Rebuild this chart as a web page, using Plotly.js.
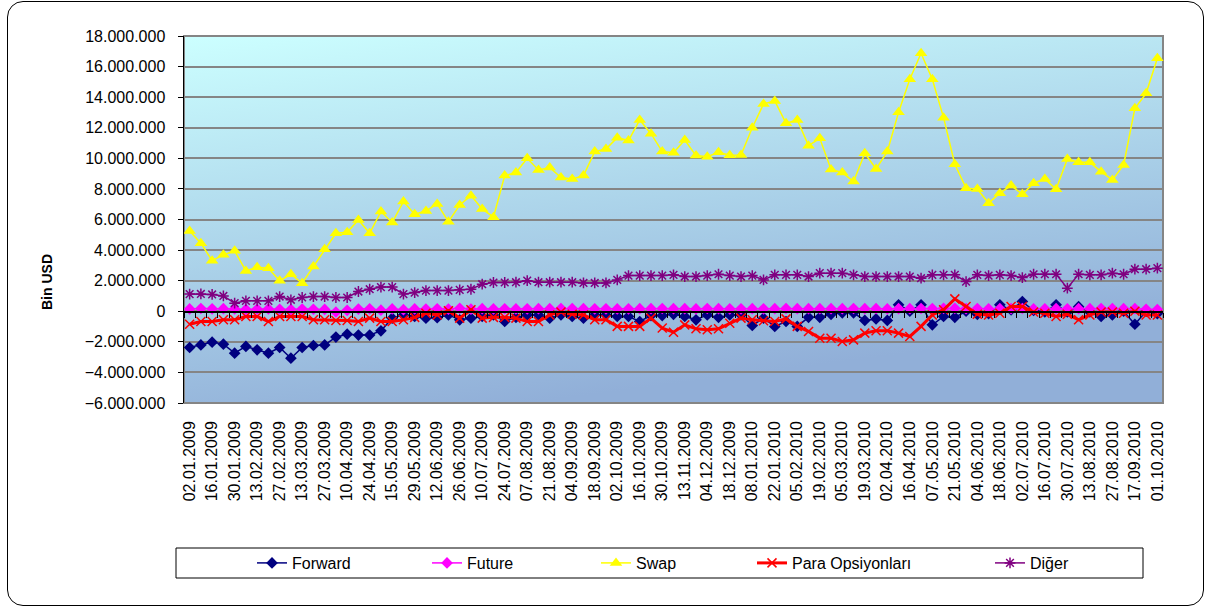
<!DOCTYPE html>
<html>
<head>
<meta charset="utf-8">
<script src="https://cdn.plot.ly/plotly-3.0.1.min.js"></script>
<style>
html,body{margin:0;padding:0;background:#fff;}
#wrap{position:relative;width:1206px;height:607px;}
#chart{position:absolute;left:0;top:0;width:1206px;height:607px;}
#frame{position:absolute;left:7px;top:1px;width:1195px;height:603px;border:1.5px solid #000;border-radius:16px;pointer-events:none;}
</style>
</head>
<body>
<div id="wrap"><div id="chart"></div><div id="frame"></div></div>
<script>
const dates = [
"02.01.2009","09.01.2009","16.01.2009","23.01.2009","30.01.2009","06.02.2009","13.02.2009","20.02.2009","27.02.2009","06.03.2009",
"13.03.2009","20.03.2009","27.03.2009","03.04.2009","10.04.2009","17.04.2009","24.04.2009","08.05.2009","15.05.2009","22.05.2009",
"29.05.2009","05.06.2009","12.06.2009","19.06.2009","26.06.2009","03.07.2009","10.07.2009","17.07.2009","24.07.2009","31.07.2009",
"07.08.2009","14.08.2009","21.08.2009","28.08.2009","04.09.2009","11.09.2009","18.09.2009","25.09.2009","02.10.2009","09.10.2009",
"16.10.2009","23.10.2009","30.10.2009","06.11.2009","13.11.2009","20.11.2009","04.12.2009","11.12.2009","18.12.2009","25.12.2009",
"08.01.2010","15.01.2010","22.01.2010","29.01.2010","05.02.2010","12.02.2010","19.02.2010","26.02.2010","05.03.2010","12.03.2010",
"19.03.2010","26.03.2010","02.04.2010","09.04.2010","16.04.2010","30.04.2010","07.05.2010","14.05.2010","21.05.2010","28.05.2010",
"04.06.2010","11.06.2010","18.06.2010","25.06.2010","02.07.2010","09.07.2010","16.07.2010","23.07.2010","30.07.2010","06.08.2010",
"13.08.2010","20.08.2010","27.08.2010","03.09.2010","17.09.2010","24.09.2010","01.10.2010"
];
const tickLabels = [
"02.01.2009","16.01.2009","30.01.2009","13.02.2009","27.02.2009","13.03.2009","27.03.2009","10.04.2009","24.04.2009","15.05.2009",
"29.05.2009","12.06.2009","26.06.2009","10.07.2009","24.07.2009","07.08.2009","21.08.2009","04.09.2009","18.09.2009","02.10.2009",
"16.10.2009","30.10.2009","13.11.2009","04.12.2009","18.12.2009","08.01.2010","22.01.2010","05.02.2010","19.02.2010","05.03.2010",
"19.03.2010","02.04.2010","16.04.2010","07.05.2010","21.05.2010","04.06.2010","18.06.2010","02.07.2010","16.07.2010","30.07.2010",
"13.08.2010","27.08.2010","17.09.2010","01.10.2010"
];
const forward = [
-2370000,-2200000,-2020000,-2150000,-2740000,-2300000,-2520000,-2740000,-2370000,-3070000,-2370000,-2240000,-2200000,-1690000,-1500000,
-1560000,-1560000,-1280000,-450000,-240000,-340000,-450000,-420000,-240000,-560000,-450000,-340000,-240000,-670000,
-400000,-240000,-240000,-450000,-240000,-340000,-450000,-240000,-240000,-340000,-340000,-670000,-280000,-280000,
-200000,-340000,-560000,-240000,-400000,-240000,-240000,-930000,-450000,-990000,-670000,-990000,-400000,-400000,-200000,
-100000,-100000,-600000,-500000,-600000,420000,0,420000,-890000,-340000,-400000,0,-200000,-150000,
420000,90000,630000,50000,-50000,420000,-50000,300000,-50000,-340000,-240000,0,-850000,0,-150000
];
const future = [
150000,180000,160000,170000,150000,120000,140000,150000,130000,110000,140000,130000,120000,-50000,60000,
140000,160000,70000,150000,100000,150000,140000,160000,140000,190000,140000,170000,150000,160000,
150000,160000,170000,170000,180000,180000,170000,160000,160000,150000,160000,170000,170000,180000,
170000,170000,150000,180000,170000,160000,160000,170000,160000,170000,180000,170000,170000,170000,170000,
170000,180000,170000,170000,150000,170000,170000,180000,180000,190000,190000,170000,180000,160000,
170000,170000,180000,150000,160000,170000,160000,170000,170000,180000,180000,170000,170000,130000,110000
];
const swap = [
5250000,4450000,3310000,3690000,3950000,2640000,2880000,2820000,1990000,2420000,1830000,2920000,4060000,5100000,5170000,
5970000,5100000,6520000,5800000,7170000,6350000,6560000,7020000,5860000,6950000,7560000,6690000,6150000,8870000,
9070000,10000000,9240000,9400000,8740000,8650000,8870000,10440000,10610000,11350000,11160000,12510000,11610000,10440000,
10370000,11200000,10180000,10110000,10400000,10200000,10220000,12000000,13560000,13750000,12290000,12510000,10830000,11310000,9270000,
9070000,8480000,10330000,9310000,10440000,13010000,15170000,16870000,15170000,12660000,9610000,8050000,8000000,7070000,
7720000,8220000,7650000,8370000,8650000,7980000,9960000,9740000,9740000,9130000,8590000,9570000,13270000,14250000,16540000
];
const paraOpsiyonlari = [
-850000,-670000,-670000,-560000,-560000,-340000,-340000,-670000,-340000,-340000,-340000,-560000,-560000,-600000,-600000,
-670000,-450000,-670000,-670000,-560000,-400000,-130000,-240000,30000,-450000,100000,-450000,-400000,-400000,
-450000,-670000,-670000,-240000,-50000,-190000,-240000,-560000,-560000,-990000,-990000,-990000,-450000,-1100000,
-1370000,-890000,-1150000,-1210000,-1150000,-780000,-450000,-560000,-620000,-670000,-500000,-990000,-1320000,-1760000,-1760000,
-1980000,-1870000,-1430000,-1280000,-1280000,-1430000,-1650000,-990000,-240000,100000,810000,310000,-190000,-240000,
-130000,310000,310000,-50000,-130000,-340000,-190000,-560000,-240000,-50000,-50000,-130000,0,-240000,-240000
];
const diger = [
1120000,1130000,1100000,1000000,530000,680000,680000,680000,960000,750000,900000,960000,960000,900000,900000,
1290000,1440000,1580000,1580000,1120000,1220000,1350000,1350000,1350000,1400000,1440000,1770000,1880000,1880000,
1900000,2000000,1900000,1900000,1900000,1900000,1850000,1850000,1850000,2050000,2330000,2330000,2330000,2330000,
2380000,2270000,2270000,2330000,2420000,2330000,2270000,2330000,2050000,2380000,2380000,2380000,2270000,2490000,2490000,
2490000,2380000,2270000,2270000,2270000,2270000,2270000,2160000,2380000,2380000,2380000,1940000,2380000,2330000,
2380000,2330000,2200000,2420000,2420000,2420000,1510000,2420000,2380000,2380000,2490000,2420000,2750000,2750000,2820000
];
const seriesNames = ["Forward","Future","Swap","Para Opsiyonları","Diğer"];
const yTitle = "Bin USD";

const FONT = "'Liberation Sans', Arial, sans-serif";
const L = 184, PW = 979, T = 36, PH = 367;
const px2x = p => (p - L) / PW;
const px2y = p => (T + PH - p) / PH;

const bgSvg = '<svg xmlns="http://www.w3.org/2000/svg" width="979" height="367" preserveAspectRatio="none" viewBox="0 0 979 367">' +
  '<defs><linearGradient id="g" x1="0" y1="0" x2="0.35" y2="1">' +
  '<stop offset="0" stop-color="#CCFFFF"/><stop offset="1" stop-color="#91AFD8"/></linearGradient></defs>' +
  '<rect width="979" height="367" fill="url(#g)"/></svg>';
const bgSrc = 'data:image/svg+xml;charset=utf-8,' + encodeURIComponent(bgSvg);

function tr(y, name, color, sym, msize, lw, legendId, extra) {
  const t = {
    x: dates, y: y, name: name, type: 'scatter', mode: 'lines+markers',
    line: {color: color, width: lw},
    marker: {symbol: sym, size: msize, color: color, line: {color: color, width: 0}},
    legend: legendId, cliponaxis: false
  };
  if (extra) Object.assign(t.marker, extra);
  return t;
}
const traces = [
  {x: [], y: [], xaxis: 'x2', yaxis: 'y', type: 'scatter', mode: 'markers', showlegend: false, hoverinfo: 'skip'},
  tr(forward, seriesNames[0], '#000080', 'diamond', 9, 1.5, 'legend'),
  tr(future, seriesNames[1], '#FF00FF', 'diamond', 9, 1.5, 'legend2'),
  tr(swap, seriesNames[2], '#FFFF00', 'triangle-up', 11, 1.5, 'legend3'),
  tr(paraOpsiyonlari, seriesNames[3], '#FF0000', 'x-thin-open', 9, 3, 'legend4', {line: {color: '#FF0000', width: 1.5}}),
  tr(diger, seriesNames[4], '#800080', 'asterisk-open', 9, 1.5, 'legend5', {line: {color: '#800080', width: 1.5}})
];

const legTextPx = [294, 469, 638, 794, 1032];
function leg(i) {
  return {x: px2x(legTextPx[i] - 42), xanchor: 'left', y: px2y(563), yanchor: 'middle',
    orientation: 'h', bgcolor: 'rgba(0,0,0,0)', borderwidth: 0,
    font: {family: FONT, size: 16, color: '#000'}, itemwidth: 30};
}

const layout = {
  width: 1206, height: 607,
  margin: {l: L, r: 1206 - L - PW, t: T, b: 607 - T - PH, pad: 0},
  paper_bgcolor: 'rgba(0,0,0,0)', plot_bgcolor: 'rgba(0,0,0,0)',
  separators: ',.',
  font: {family: FONT, size: 16, color: '#000'},
  showlegend: true,
  legend: leg(0), legend2: leg(1), legend3: leg(2), legend4: leg(3), legend5: leg(4),
  xaxis: {
    type: 'category', categoryorder: 'array', categoryarray: dates,
    range: [-0.5, dates.length - 0.5],
    tickmode: 'array', tickvals: tickLabels, ticktext: tickLabels,
    tickangle: -90, ticks: '', showgrid: false, zeroline: false, showline: false,
    ticklabelstandoff: 14,
    tickfont: {family: FONT, size: 16, color: '#000'}
  },
  xaxis2: {
    overlaying: 'x', anchor: 'free', position: 0.25, type: 'linear',
    range: [-0.5, dates.length - 0.5], tick0: -0.5, dtick: 1,
    ticks: 'outside', ticklen: 5, tickwidth: 1, tickcolor: '#000',
    showline: true, linecolor: '#000', linewidth: 1.5,
    showticklabels: false, showgrid: false, zeroline: false
  },
  yaxis: {
    range: [-6000000, 18000000], dtick: 2000000, tick0: 0, tickformat: ',d',
    showgrid: true, gridcolor: '#858585', gridwidth: 2,
    zeroline: false, showline: true, linecolor: '#000', linewidth: 1.5,
    ticks: 'outside', ticklen: 5, tickcolor: '#000', tickwidth: 1,
    ticklabelstandoff: 9,
    tickfont: {family: FONT, size: 16, color: '#000'}
  },
  images: [{source: bgSrc, xref: 'paper', yref: 'paper', x: 0, y: 1, sizex: 1, sizey: 1,
    sizing: 'stretch', xanchor: 'left', yanchor: 'top', layer: 'below'}],
  shapes: [
    {type: 'rect', xref: 'paper', yref: 'paper', x0: 0, x1: 1, y0: 0, y1: 1,
     line: {color: '#858585', width: 2}, layer: 'below'},
    {type: 'rect', xref: 'paper', yref: 'paper', x0: px2x(176), x1: px2x(1143), y0: px2y(578), y1: px2y(548),
     line: {color: '#000', width: 1}, fillcolor: 'rgba(0,0,0,0)'}
  ],
  annotations: [{text: '<b>' + yTitle + '</b>', xref: 'paper', yref: 'paper', x: px2x(47), y: px2y(282),
    textangle: -90, showarrow: false, xanchor: 'center', yanchor: 'middle',
    font: {family: FONT, size: 14, color: '#000'}}]
};

Plotly.newPlot('chart', traces, layout, {displayModeBar: false, staticPlot: true});
</script>
</body>
</html>
